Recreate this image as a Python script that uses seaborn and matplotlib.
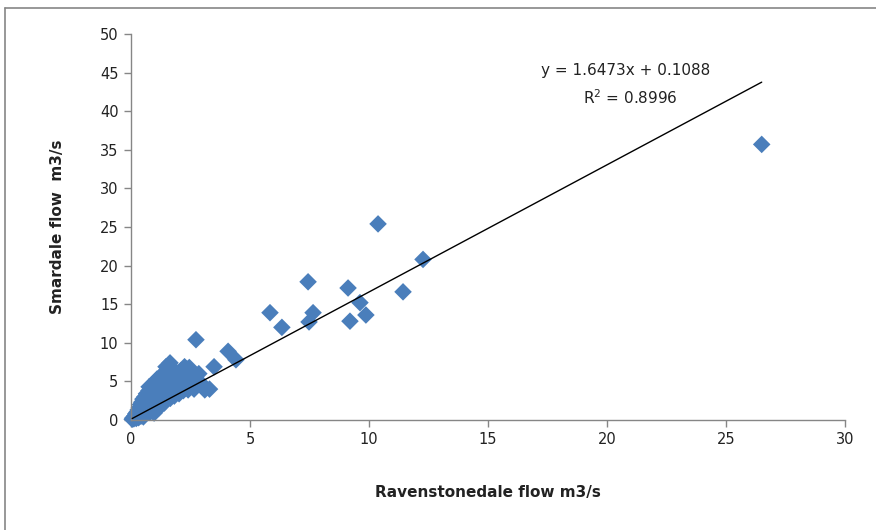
import matplotlib
matplotlib.use("Agg")
import matplotlib.pyplot as plt
from matplotlib.lines import Line2D
import seaborn as sns
import pandas as pd
import numpy as np

sns.set_theme(style="white")
plt.rcParams['font.family'] = ['DejaVu Sans']

# Ravenstonedale flow (x) and Smardale flow (y), m3/s
ravenstonedale = [
    0.05, 0.08, 0.10, 0.12, 0.15, 0.18, 0.20, 0.22, 0.25, 0.28, 0.30, 0.32, 0.35, 0.38,
    0.40, 0.42, 0.45, 0.48, 0.50, 0.52, 0.55, 0.58, 0.60, 0.62, 0.65, 0.68, 0.70, 0.72,
    0.75, 0.76, 0.80, 0.82, 0.85, 0.88, 0.90, 0.92, 0.95, 0.97, 1.00, 1.02, 1.05, 1.09,
    1.10, 1.12, 1.15, 1.20, 1.22, 1.25, 1.30, 1.32, 1.35, 1.40, 1.42, 1.45, 1.47, 1.50,
    1.52, 1.55, 1.60, 1.62, 1.65, 1.70, 1.72, 1.75, 1.80, 1.82, 1.85, 1.90, 1.92, 2.00,
    2.02, 2.05, 2.10, 2.15, 2.20, 2.22, 2.30, 2.35, 2.40, 2.45, 2.50, 2.55, 2.60, 2.65,
    2.70, 2.80, 2.85, 2.90, 3.00, 3.10, 3.30, 0.35, 0.55, 0.65, 0.78, 0.90, 1.05, 1.18,
    1.28, 1.38, 1.48, 1.58, 1.68, 1.78, 1.88, 1.98, 2.08, 2.18, 2.28, 2.38, 2.48, 2.58,
    2.45, 2.25,
    1.64, 2.73, 3.49, 4.08, 4.41, 3.10,
    5.84, 6.34, 7.44, 7.48, 7.65, 9.12, 9.20, 9.62, 9.87, 10.38, 11.43, 12.27, 26.50,
]
smardale = [
    0.10, 0.25, 0.30, 0.15, 0.50, 0.40, 0.80, 0.20, 1.00, 0.60, 1.30, 0.30, 1.60, 0.90,
    2.00, 0.50, 2.30, 1.10, 2.70, 0.40, 1.50, 3.00, 0.80, 2.20, 3.40, 1.20, 2.60, 1.80,
    3.80, 4.30, 1.00, 3.00, 2.00, 4.50, 1.40, 3.60, 2.40, 0.90, 4.80, 1.80, 3.20, 5.30,
    2.60, 4.20, 1.50, 3.80, 5.60, 2.20, 4.80, 3.00, 6.00, 2.20, 4.00, 5.40, 6.90, 3.00,
    4.80, 6.20, 3.60, 5.60, 2.80, 4.40, 6.40, 3.40, 5.20, 3.10, 4.20, 6.20, 5.60, 4.00,
    3.40, 5.00, 6.40, 4.40, 3.80, 5.80, 4.80, 6.60, 3.90, 5.40, 4.40, 6.20, 5.00, 4.00,
    5.60, 4.60, 6.00, 4.90, 4.40, 3.90, 4.00, 0.60, 0.90, 2.80, 2.20, 3.00, 3.80, 4.40,
    3.60, 5.00, 4.20, 5.00, 4.00, 5.80, 4.60, 5.20, 4.40, 5.60, 4.40, 5.20, 4.80, 5.60,
    6.80, 6.90,
    7.40, 10.40, 6.90, 8.90, 7.80, 4.10,
    13.90, 12.00, 17.90, 12.70, 13.90, 17.10, 12.80, 15.20, 13.60, 25.40, 16.60, 20.80, 35.70,
]

# Linear trendline shown on the chart
slope = 1.6473
intercept = 0.1088
r_squared = 0.8996

df = pd.DataFrame({"x": ravenstonedale, "y": smardale})

W, H = 876, 530
fig = plt.figure(figsize=(W / 100, H / 100), dpi=100)
ax = fig.add_axes([131 / W, 1 - 420 / H, (845 - 131) / W, (420 - 34) / H])

sns.scatterplot(data=df, x="x", y="y", marker="D", s=80, color="#4A7EBB",
                edgecolor="none", linewidth=0, ax=ax, zorder=2, clip_on=False)

xs = np.array([min(ravenstonedale), max(ravenstonedale)])
line_df = pd.DataFrame({"x": xs, "y": slope * xs + intercept})
sns.lineplot(data=line_df, x="x", y="y", color="black", linewidth=1.0, ax=ax, zorder=3)

ax.set_xlim(0, 30)
ax.set_ylim(0, 50)
ax.set_xticks(range(0, 31, 5))
ax.set_yticks(range(0, 51, 5))

grey = "#868686"
for side in ["top", "right"]:
    ax.spines[side].set_visible(False)
for side in ["left", "bottom"]:
    ax.spines[side].set_color(grey)
    ax.spines[side].set_linewidth(1.0)
ax.tick_params(axis="both", direction="out", length=5, width=1, color=grey,
               labelsize=10.5, labelcolor="#222222", pad=4)
ax.tick_params(left=True, bottom=True)

ax.set_xlabel("Ravenstonedale flow m3/s", fontsize=11, fontweight="bold",
              color="#222222", labelpad=27)
ax.set_ylabel("Smardale flow  m3/s", fontsize=11, fontweight="bold",
              color="#222222", labelpad=25)

fig.text(626 / W, 1 - 71 / H, f"y = {slope}x + {intercept}", ha="center", va="center",
         fontsize=11, color="#222222")
fig.text(630 / W, 1 - 98 / H, f"R$^2$ = {r_squared}", ha="center", va="center",
         fontsize=11, color="#222222")

# chart-area border
fig.add_artist(Line2D([5 / W, 1.0], [1 - 8 / H, 1 - 8 / H], color=grey, linewidth=1.2,
                      transform=fig.transFigure))
fig.add_artist(Line2D([5 / W, 5 / W], [0.0, 1 - 8 / H], color=grey, linewidth=1.2,
                      transform=fig.transFigure))

fig.savefig("out.png", dpi=100, facecolor="white")
